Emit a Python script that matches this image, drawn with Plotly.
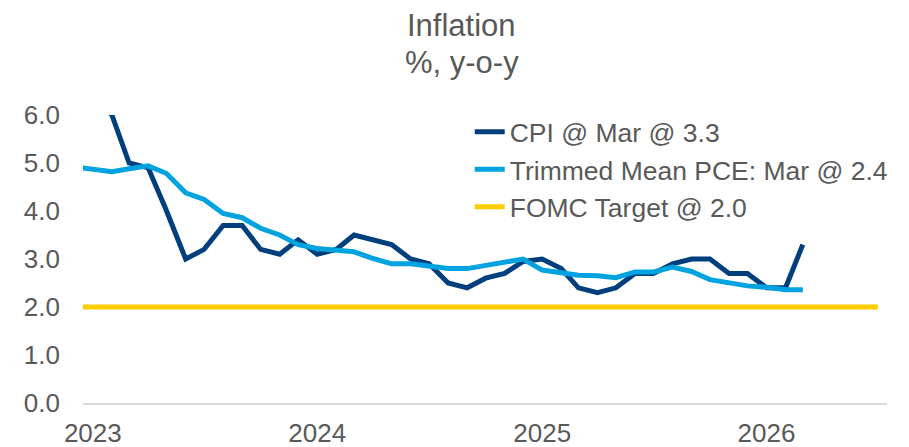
import plotly.graph_objects as go

# Monthly dates
cpi_dates = [f"{y}-{m:02d}-01" for y in (2023, 2024, 2025) for m in range(1, 13)] + \
            ["2026-01-01", "2026-02-01", "2026-03-01"]
cpi_values = [6.4, 6.0, 5.0, 4.9, 4.0, 3.0, 3.2, 3.7, 3.7, 3.2, 3.1, 3.4,
              3.1, 3.2, 3.5, 3.4, 3.3, 3.0, 2.9, 2.5, 2.4, 2.6, 2.7, 2.95,
              3.0, 2.8, 2.4, 2.3, 2.4, 2.7, 2.7, 2.9, 3.0, 3.0, 2.7, 2.7,
              2.4, 2.4, 3.3]

pce_dates = ["2022-12-01"] + cpi_dates
pce_values = [4.92,
              4.86, 4.82, 4.88, 4.94, 4.78, 4.38, 4.24, 3.95, 3.86, 3.64, 3.50, 3.30,
              3.22, 3.19, 3.15, 3.01, 2.90, 2.90, 2.85, 2.80, 2.80, 2.87, 2.92, 3.00,
              2.77, 2.72, 2.66, 2.65, 2.61, 2.73, 2.73, 2.83, 2.74, 2.57, 2.51, 2.44,
              2.41, 2.36, 2.36]

target_dates = ["2022-12-01", "2026-07-01"]
target_values = [2.0, 2.0]

names = ["CPI @ Mar @ 3.3", "Trimmed Mean PCE: Mar @ 2.4", "FOMC Target @ 2.0"]
colors = ["#003F7D", "#00A3E0", "#FFCC00"]

year_ticks = ["2023-01-01", "2024-01-01", "2025-01-01", "2026-01-01"]
year_labels = ["2023", "2024", "2025", "2026"]

title_lines = ["Inflation", "%, y-o-y"]

FONT = "Liberation Sans, Arial, sans-serif"
GREY = "#595959"

fig = go.Figure()
for i, (xd, yd) in enumerate([(cpi_dates, cpi_values), (pce_dates, pce_values),
                              (target_dates, target_values)]):
    fig.add_trace(go.Scatter(x=xd, y=yd, mode="lines", name=names[i],
                             legendgroup=f"g{i}",
                             line=dict(color=colors[i], width=5)))

for txt, yy in zip(title_lines, [1.3125, 1.184]):
    fig.add_annotation(text=txt, xref="paper", yref="paper", x=0.471, y=yy,
                       xanchor="center", yanchor="middle", showarrow=False,
                       font=dict(family=FONT, color=GREY, size=31))

# page body adds an 8px offset, so the figure is sized/margined to compensate
fig.update_layout(
    width=901, height=439,
    margin=dict(l=75, r=22, t=107, b=44, autoexpand=False),
    paper_bgcolor="white", plot_bgcolor="white",
    font=dict(family=FONT, color=GREY, size=26),
    showlegend=True,
    legend=dict(x=0.481, y=1.024, xanchor="left", yanchor="top",
                bgcolor="rgba(0,0,0,0)", font=dict(size=26.5, color=GREY),
                tracegroupgap=0),
    xaxis=dict(type="date", range=["2022-12-16", "2026-07-16"],
               tickvals=year_ticks, ticktext=year_labels,
               showgrid=False, zeroline=False, automargin=False,
               showline=True, linecolor="#D9D9D9", linewidth=2,
               ticks="", ticklabelstandoff=6,
               tickfont=dict(size=26, color=GREY)),
    yaxis=dict(range=[0, 6], dtick=1, tickformat=".1f",
               showgrid=False, zeroline=False, showline=False, automargin=False,
               ticks="", ticklabelstandoff=22,
               tickfont=dict(size=26, color=GREY)),
)

fig.write_html("out.html")
